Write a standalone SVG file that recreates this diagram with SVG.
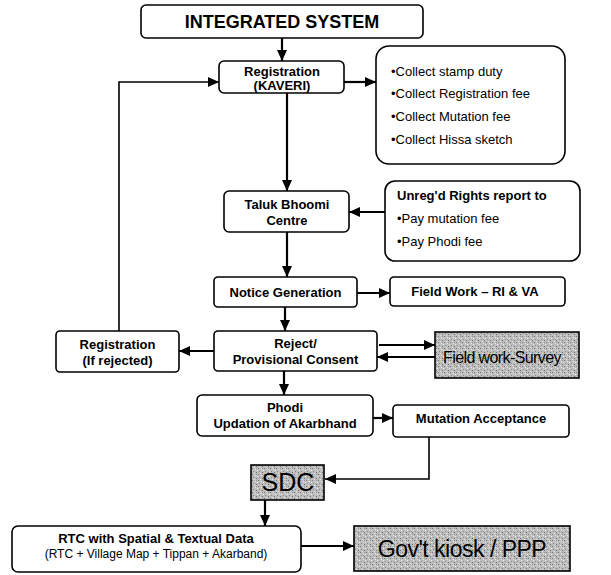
<svg xmlns="http://www.w3.org/2000/svg" width="611" height="575" viewBox="0 0 611 575">
<defs>
<pattern id="stip" width="6" height="6" patternUnits="userSpaceOnUse">
<rect width="6" height="6" fill="#bdbdbd"/>
<rect x="0" y="0" width="1" height="1" fill="#7a7a7a"/>
<rect x="3" y="1" width="1" height="1" fill="#e6e6e6"/>
<rect x="1" y="3" width="1" height="1" fill="#8a8a8a"/>
<rect x="4" y="4" width="1" height="1" fill="#707070"/>
<rect x="5" y="2" width="1" height="1" fill="#f0f0f0"/>
<rect x="2" y="5" width="1" height="1" fill="#e2e2e2"/>
<rect x="4" y="0" width="1" height="1" fill="#999"/>
</pattern>
<marker id="ah" markerUnits="userSpaceOnUse" markerWidth="11" markerHeight="10" refX="11" refY="5" orient="auto">
<path d="M0,0 L11,5 L0,10 z" fill="#000"/>
</marker>
</defs>
<style>
.box{fill:#fff;stroke:#000;stroke-width:1.6}
.gbox{fill:url(#stip);stroke:#000;stroke-width:1.6}
.t{font-family:"Liberation Sans",Arial,sans-serif;font-size:13px;font-weight:bold;fill:#000;text-anchor:middle}
.l{font-family:"Liberation Sans",Arial,sans-serif;font-size:13px;fill:#000}
.lb{font-family:"Liberation Sans",Arial,sans-serif;font-size:13px;font-weight:bold;fill:#000}
.big{font-family:"Liberation Sans",Arial,sans-serif;fill:#000;text-anchor:middle}
.c{fill:none;stroke:#000;stroke-width:2.2}
.c2{fill:none;stroke:#000;stroke-width:1.6}
</style>
<g id="connectors">
<path class="c" d="M282,38 V61" marker-end="url(#ah)"/>
<path class="c" d="M344,82 H376" marker-end="url(#ah)"/>
<path class="c" d="M287,93 V191" marker-end="url(#ah)"/>
<path class="c" d="M385,212 H349" marker-end="url(#ah)"/>
<path class="c" d="M287,232 V277" marker-end="url(#ah)"/>
<path class="c" d="M357,293 H390" marker-end="url(#ah)"/>
<path class="c" d="M285,307 V331" marker-end="url(#ah)"/>
<path class="c" d="M214,351 H179" marker-end="url(#ah)"/>
<path class="c2" d="M119,331 V82 H219" marker-end="url(#ah)"/>
<path class="c" d="M379,345 H435" marker-end="url(#ah)"/>
<path class="c" d="M435,357 H377" marker-end="url(#ah)"/>
<path class="c" d="M284,371 V395" marker-end="url(#ah)"/>
<path class="c" d="M373,418 H393" marker-end="url(#ah)"/>
<path class="c2" d="M429,437 V479 H325" marker-end="url(#ah)"/>
<path class="c" d="M265,500 V526" marker-end="url(#ah)"/>
<path class="c" d="M301,546 H354" marker-end="url(#ah)"/>
</g>
<g id="integrated">
<rect class="box" x="141" y="5" width="282" height="33" rx="5"/>
<text class="big" x="282" y="28" font-size="18" font-weight="bold">INTEGRATED SYSTEM</text>
</g>
<g id="registration">
<rect class="box" x="219" y="61" width="125" height="32" rx="5"/>
<text class="t" x="282" y="76" font-size="12.5">Registration</text>
<text class="t" x="282" y="90" font-size="12.5">(KAVERI)</text>
</g>
<g id="collect">
<rect class="box" x="376" y="46" width="189" height="118" rx="13"/>
<text class="l" x="391" y="76">•Collect stamp duty</text>
<text class="l" x="391" y="98">•Collect Registration fee</text>
<text class="l" x="391" y="121">•Collect Mutation fee</text>
<text class="l" x="391" y="144">•Collect Hissa sketch</text>
</g>
<g id="taluk">
<rect class="box" x="224" y="191" width="125" height="41" rx="5"/>
<text class="t" x="287" y="209">Taluk Bhoomi</text>
<text class="t" x="287" y="225">Centre</text>
</g>
<g id="unregd">
<rect class="box" x="385" y="181" width="195" height="80" rx="10"/>
<text class="lb" x="397" y="200">Unreg'd Rights report to</text>
<text class="l" x="397" y="223">•Pay mutation fee</text>
<text class="l" x="397" y="246">•Pay Phodi fee</text>
</g>
<g id="notice">
<rect class="box" x="214" y="277" width="143" height="30" rx="4"/>
<text class="t" x="285.5" y="297">Notice Generation</text>
</g>
<g id="fieldwork">
<rect class="box" x="390" y="277" width="175" height="29" rx="4"/>
<text class="t" x="475" y="296">Field Work – RI &amp; VA</text>
</g>
<g id="reject">
<rect class="box" x="214" y="331" width="163" height="40" rx="4"/>
<text class="t" x="295.5" y="348">Reject/</text>
<text class="t" x="295.5" y="364">Provisional Consent</text>
</g>
<g id="reg-rejected">
<rect class="box" x="56" y="331" width="123" height="41" rx="4"/>
<text class="t" x="117.5" y="349">Registration</text>
<text class="t" x="117.5" y="365">(If rejected)</text>
</g>
<g id="fieldsurvey">
<rect class="gbox" x="435" y="332" width="144" height="46"/>
<text class="big" x="502" y="363" font-size="16" letter-spacing="-0.6">Field work-Survey</text>
</g>
<g id="phodi">
<rect class="box" x="197" y="395" width="176" height="41" rx="5"/>
<text class="t" x="285" y="412">Phodi</text>
<text class="t" x="285" y="428">Updation of Akarbhand</text>
</g>
<g id="mutation">
<rect class="box" x="393" y="405" width="176" height="32" rx="4"/>
<text class="t" x="481" y="423">Mutation Acceptance</text>
</g>
<g id="sdc">
<rect class="gbox" x="251" y="465" width="73" height="35"/>
<text class="big" x="288" y="491" font-size="25">SDC</text>
</g>
<g id="rtc">
<rect class="box" x="12" y="526" width="289" height="46" rx="6"/>
<text class="t" x="156" y="543" font-size="12">RTC with Spatial &amp; Textual Data</text>
<text class="big" x="156" y="558" font-size="12">(RTC + Village Map + Tippan + Akarband)</text>
</g>
<g id="kiosk">
<rect class="gbox" x="354" y="526" width="216" height="45"/>
<text class="big" x="462" y="557" font-size="23" letter-spacing="-0.5">Gov't kiosk / PPP</text>
</g>
</svg>
